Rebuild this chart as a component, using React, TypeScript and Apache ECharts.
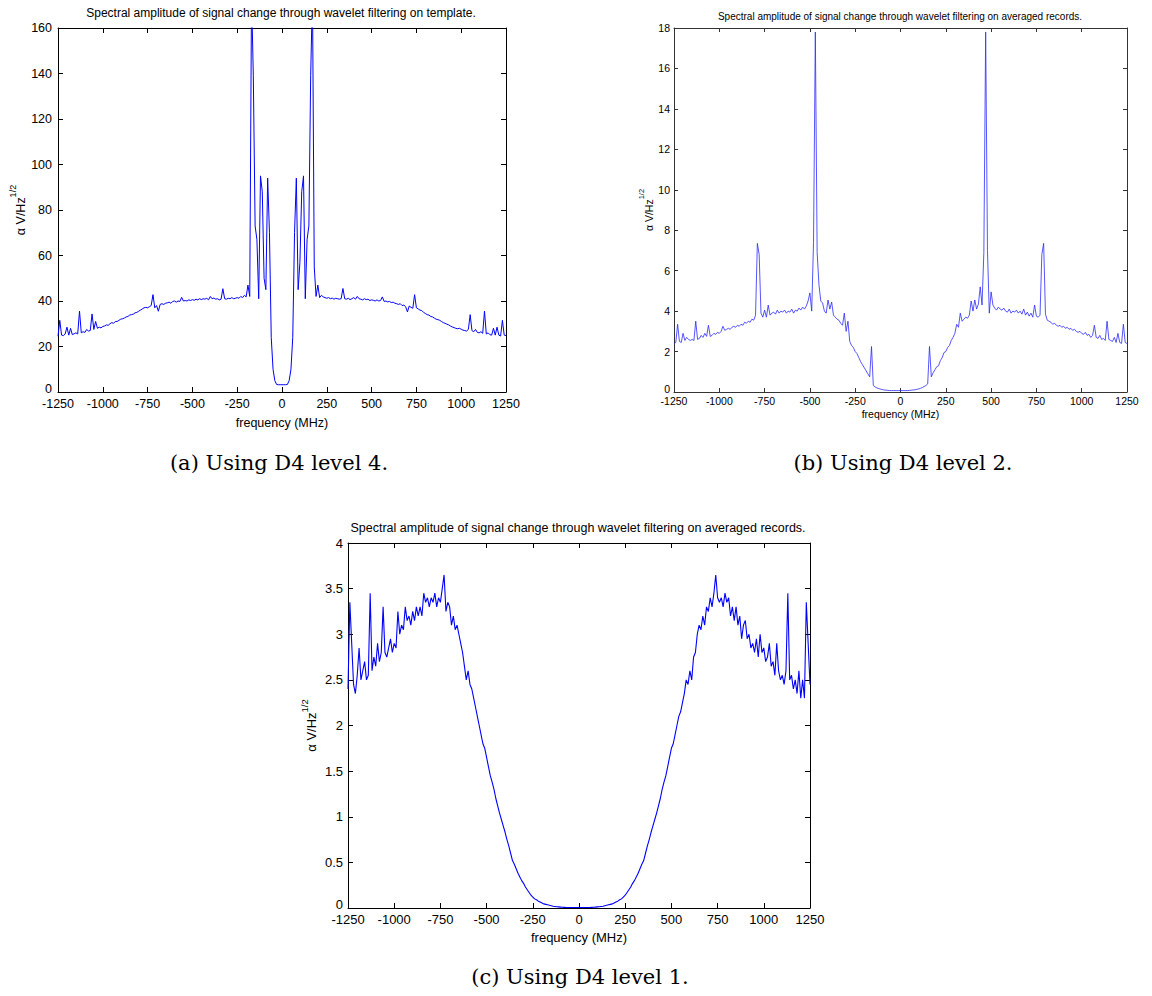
import React, { useEffect, useRef } from "react";
import * as echarts from "echarts";

// Frequency grid (MHz) shared by all three spectra
const FREQ_MIN = -1250;
const FREQ_STEP = 10;

// (a) D4 level 4, template
const ampTemplateL4: number[] = [
  24.5, 31.5, 25, 24.8, 25.5, 28.5, 25, 28, 25.2, 25.6,
  26, 25.5, 35.6, 26, 26.5, 26.2, 27.5, 26.8, 27, 34.3,
  27.5, 31, 28, 28.5, 28.2, 28.8, 29, 29.5, 29.3, 30,
  30.5, 30.2, 31, 31, 31.5, 32, 32.2, 32.5, 33, 33.2,
  33.8, 34, 34.2, 34.8, 35, 35.5, 36, 36.5, 37, 37.2,
  37, 37.5, 38, 42.8, 37, 38, 35.5, 38.5, 38.8, 38.5,
  39, 39.2, 39.5, 39, 39.8, 40, 39.5, 40, 39.8, 41.6,
  40, 40.2, 40, 40.5, 40.2, 40.6, 40.3, 40.8, 40.5, 41,
  40.6, 41, 40.8, 41.2, 40.5, 42, 41, 41.3, 40.8, 41,
  40.5, 40.8, 45.4, 41, 40.8, 41.2, 41, 41.5, 41, 41.2,
  41.5, 41.2, 42, 41.5, 42.5, 41.8, 47, 42, 175, 139,
  73, 67, 41, 95, 88, 50, 45, 94, 70, 24,
  10, 5, 3.3, 3.2, 3.2, 3.2, 3.2, 3.2, 3.3, 5,
  10, 24, 70, 94, 45, 57, 88, 95, 41, 67,
  73, 139, 175, 55, 42, 47, 41.5, 42.5, 41.8, 41.5,
  41.2, 41.5, 41, 41.3, 40.8, 41.2, 41, 40.8, 41, 45.5,
  41, 40.8, 41.2, 40.6, 41, 41.5, 40.8, 42, 41, 40.8,
  40.5, 41, 40.6, 40.8, 40.2, 40.5, 40.3, 40, 40.5, 40,
  40.2, 41.8, 39.8, 40, 39.6, 39.8, 39.3, 39.5, 39, 38.8,
  38.5, 38.8, 38, 38.2, 37.5, 35.2, 37.8, 37.2, 36.8, 42.8,
  37, 36.5, 36, 35.8, 35, 34.5, 34, 33.8, 33.2, 33,
  32.5, 32, 31.8, 31.5, 31, 30.5, 30.2, 29.8, 29.5, 29,
  28.6, 28.3, 28, 27.8, 28, 27.6, 27.2, 27, 26.8, 27.5,
  34, 27, 26.5, 27.5, 26.2, 26, 26.5, 25.8, 35.6, 25.5,
  26, 25.2, 25, 28, 25, 28.5, 25, 24.6, 31.5, 25,
  24.8,
];

// (b) D4 level 2, averaged records
const ampAveragedL2: number[] = [
  2.4, 2.45, 3.35, 2.5, 2.45, 2.9, 2.55, 2.7, 2.6, 2.55,
  2.6, 2.55, 3.5, 2.6, 2.65, 2.8, 2.7, 2.9, 2.75, 3.3,
  2.75, 2.8, 2.9, 2.85, 2.95, 2.9, 3.0, 3.25, 3.05, 3.1,
  3.15, 3.1, 3.2, 3.25, 3.2, 3.3, 3.25, 3.35, 3.3, 3.45,
  3.4, 3.5, 3.45, 3.6, 3.55, 3.8, 7.35, 6.8, 3.9, 3.7,
  4.05, 3.7, 4.3, 3.8, 3.9, 3.95, 3.85, 4.05, 3.9, 4.0,
  3.95, 4.05, 3.9, 4.0, 3.95, 4.1, 3.9, 4.05, 4.0, 4.15,
  4.05, 4.2, 4.1, 4.25, 4.5, 4.9, 4.0, 7.4, 17.8, 6.9,
  5.3, 4.5, 4.4, 4.0, 3.9, 4.55, 4.1, 4.45, 3.8, 3.7,
  3.6, 3.55, 3.4, 3.3, 3.9, 3.0, 3.5, 2.5, 2.3, 2.2,
  2.0, 1.9, 1.7, 1.5, 1.35, 1.2, 1.05, 0.9, 0.75, 2.25,
  0.32, 0.25, 0.2, 0.17, 0.14, 0.12, 0.1, 0.09, 0.08, 0.07,
  0.07, 0.07, 0.07, 0.07, 0.07, 0.07, 0.07, 0.07, 0.07, 0.07,
  0.08, 0.09, 0.1, 0.11, 0.13, 0.15, 0.18, 0.22, 0.27, 0.32,
  0.4, 2.25, 0.75, 0.95, 1.1, 1.25, 1.3, 1.55, 1.7, 1.95,
  2.0, 2.2, 2.3, 2.55, 2.7, 2.9, 3.35, 3.2, 3.9, 3.5,
  3.6, 3.7, 3.65, 3.8, 4.5, 4.0, 4.55, 4.1, 4.35, 5.2,
  4.3, 6.9, 17.8, 7.0, 3.9, 4.95, 4.3, 4.15, 4.05, 4.2,
  4.1, 4.05, 4.15, 4.0, 3.95, 4.1, 3.9, 4.0, 3.95, 4.05,
  3.9, 4.0, 3.85, 4.1, 3.8, 3.95, 3.75, 3.9, 3.7, 4.3,
  3.75, 3.7, 3.8, 6.8, 7.35, 3.85, 3.55, 3.5, 3.45, 3.35,
  3.4, 3.3, 3.25, 3.3, 3.2, 3.25, 3.15, 3.2, 3.1, 3.15,
  3.05, 3.1, 3.0, 2.95, 3.0, 2.9, 2.85, 2.95, 2.8, 2.85,
  2.7, 2.8, 3.3, 2.7, 2.65, 2.8, 2.6, 2.65, 2.55, 3.5,
  2.6, 2.55, 2.5, 2.7, 2.45, 2.9, 2.45, 2.4, 3.35, 2.45,
  2.4,
];

// (c) D4 level 1, averaged records
const ampAveragedL1: number[] = [
  2.4, 3.35, 2.9, 2.45, 2.35, 2.55, 2.85, 2.5, 2.6, 2.7,
  2.5, 2.55, 3.45, 2.6, 2.75, 2.65, 2.9, 2.7, 2.8, 3.3,
  2.8, 2.75, 2.85, 2.95, 2.8, 2.9, 2.85, 3.25, 3.0, 3.1,
  3.05, 3.3, 3.15, 3.2, 3.1, 3.25, 3.15, 3.3, 3.2, 3.3,
  3.2, 3.45, 3.35, 3.4, 3.3, 3.4, 3.35, 3.45, 3.3, 3.4,
  3.35, 3.5, 3.65, 3.25, 3.35, 3.3, 3.1, 3.2, 3.05, 3.1,
  3.0, 2.9, 2.8, 2.65, 2.5, 2.6, 2.45, 2.4, 2.3, 2.2,
  2.1, 2.0, 1.9, 1.8, 1.75, 1.65, 1.55, 1.45, 1.38, 1.3,
  1.2, 1.12, 1.04, 0.97, 0.9, 0.83, 0.75, 0.68, 0.6, 0.52,
  0.48, 0.43, 0.38, 0.34, 0.3, 0.27, 0.23, 0.2, 0.17, 0.14,
  0.12, 0.1, 0.09, 0.075, 0.065, 0.055, 0.045, 0.04, 0.035, 0.03,
  0.025, 0.02, 0.017, 0.014, 0.012, 0.01, 0.008, 0.007, 0.006, 0.005,
  0.005, 0.005, 0.005, 0.005, 0.005, 0.005, 0.005, 0.005, 0.005, 0.005,
  0.005, 0.006, 0.007, 0.008, 0.01, 0.012, 0.014, 0.017, 0.02, 0.025,
  0.03, 0.035, 0.04, 0.045, 0.055, 0.065, 0.075, 0.09, 0.1, 0.12,
  0.14, 0.17, 0.2, 0.23, 0.27, 0.3, 0.34, 0.38, 0.43, 0.48,
  0.52, 0.6, 0.68, 0.75, 0.83, 0.9, 0.97, 1.04, 1.12, 1.2,
  1.3, 1.38, 1.45, 1.55, 1.65, 1.75, 1.8, 1.9, 2.0, 2.1,
  2.15, 2.25, 2.35, 2.5, 2.45, 2.6, 2.5, 2.75, 2.8, 3.0,
  3.1, 3.05, 3.2, 3.1, 3.3, 3.25, 3.4, 3.3, 3.45, 3.65,
  3.4, 3.35, 3.4, 3.3, 3.45, 3.35, 3.4, 3.2, 3.3, 3.15,
  3.3, 3.1, 3.2, 2.95, 3.1, 3.15, 2.95, 3.0, 2.85, 2.9,
  2.8, 2.95, 2.75, 3.0, 2.8, 2.85, 2.7, 2.75, 2.9, 2.65,
  2.7, 2.55, 2.9, 2.6, 2.5, 2.55, 2.45, 2.6, 3.45, 2.5,
  2.55, 2.4, 2.5, 2.35, 2.6, 2.3, 2.5, 2.3, 3.35, 2.9,
  2.45,
];

const X_MIN = -1250;
const X_MAX = 1250;
const X_TICK = 250;
const yMaxes = [160, 18, 4];
const yTicks = [20, 2, 0.5];

const panelTitles = [
  "Spectral amplitude of signal change through wavelet filtering on template.",
  "Spectral amplitude of signal change through wavelet filtering on averaged records.",
  "Spectral amplitude of signal change through wavelet filtering on averaged records.",
];
const captions = ["(a) Using D4 level 4.", "(b) Using D4 level 2.", "(c) Using D4 level 1."];
const xAxisName = "frequency (MHz)";
const yAxisName = "{a|α V/Hz}{s|1/2}";

const SANS = "'Liberation Sans', Arial, Helvetica, sans-serif";
const SERIF = "'DejaVu Serif', serif";

const layout = [
  { left: 58, top: 28, width: 448, height: 364, tickFs: 12.5, titleFs: 12, titleX: 281, titleY: 13, yGap: 31, xGap: 24, labelMargin: 5, axisColor: "#000", lineWidth: 1, lineColor: "#0000ff", tickLen: 5, capX: 279, capY: 463, supFs: 9 },
  { left: 674, top: 28, width: 453, height: 364, tickFs: 10.5, titleFs: 10, titleX: 900, titleY: 16, yGap: 20, xGap: 16, labelMargin: 3, axisColor: "#333", lineWidth: 0.8, lineColor: "#2b2bff", tickLen: 4, capX: 903, capY: 463, supFs: 7.5 },
  { left: 348, top: 543, width: 462, height: 365, tickFs: 13, titleFs: 12.5, titleX: 578, titleY: 528, yGap: 30, xGap: 23, labelMargin: 4, axisColor: "#000", lineWidth: 1.1, lineColor: "#0000ff", tickLen: 5, capX: 580, capY: 977, supFs: 9.5 },
];

const toPairs = (vals: number[]) => vals.map((v, i) => [FREQ_MIN + i * FREQ_STEP, v]);
const seriesData = [ampTemplateL4, ampAveragedL2, ampAveragedL1];
const plainNumber = (v: number) => String(v);
const yLabel = (v: number) => (v === 0 ? "{z|0}" : String(v));

export default function App() {
  const ref = useRef<HTMLDivElement>(null);

  useEffect(() => {
    if (!ref.current) return;
    const chart = echarts.init(ref.current, undefined, { renderer: "svg" });

    const grid: any[] = [];
    const xAxis: any[] = [];
    const yAxis: any[] = [];
    const series: any[] = [];
    const graphic: any[] = [];

    layout.forEach((l, i) => {
      grid.push({ left: l.left, top: l.top, width: l.width, height: l.height });
      const line = { show: true, onZero: false, lineStyle: { color: l.axisColor, width: 1 } };
      const tick = { show: true, inside: true, length: l.tickLen, lineStyle: { color: l.axisColor, width: 1 } };
      const xCommon = { gridIndex: i, type: "value", min: X_MIN, max: X_MAX, interval: X_TICK, splitLine: { show: false }, axisLine: line, axisTick: tick };
      const yCommon = { gridIndex: i, type: "value", min: 0, max: yMaxes[i], interval: yTicks[i], splitLine: { show: false }, axisLine: line, axisTick: tick };
      const lh = Math.round(l.tickFs * 0.8);
      xAxis.push({
        ...xCommon,
        position: "bottom",
        axisLabel: { margin: l.labelMargin + 2, fontSize: l.tickFs, lineHeight: lh, fontFamily: SANS, color: "#000", showMinLabel: true, showMaxLabel: true, formatter: plainNumber },
        name: xAxisName,
        nameLocation: "middle",
        nameGap: l.xGap,
        nameTextStyle: { fontSize: l.tickFs, fontFamily: SANS, color: "#000" },
      });
      xAxis.push({ ...xCommon, position: "top", axisLabel: { show: false } });
      yAxis.push({
        ...yCommon,
        position: "left",
        axisLabel: {
          margin: l.labelMargin + 1,
          fontSize: l.tickFs,
          lineHeight: lh,
          fontFamily: SANS,
          color: "#000",
          showMinLabel: true,
          showMaxLabel: true,
          formatter: yLabel,
          rich: { z: { fontSize: l.tickFs, fontFamily: SANS, color: "#000", lineHeight: lh, padding: [0, 0, 7, 0] } },
        },
        name: yAxisName,
        nameLocation: "middle",
        nameGap: l.yGap,
        nameTextStyle: {
          fontSize: l.tickFs,
          fontFamily: SANS,
          color: "#000",
          rich: {
            a: { fontSize: l.tickFs, fontFamily: SANS, color: "#000", verticalAlign: "bottom", lineHeight: l.tickFs + 6 },
            s: { fontSize: l.supFs, fontFamily: SANS, color: "#000", verticalAlign: "top", lineHeight: l.tickFs + 6 },
          },
        },
      });
      yAxis.push({ ...yCommon, position: "right", axisLabel: { show: false } });
      series.push({
        type: "line",
        xAxisIndex: i * 2,
        yAxisIndex: i * 2,
        data: toPairs(seriesData[i]),
        showSymbol: false,
        symbol: "none",
        clip: true,
        lineStyle: { color: l.lineColor, width: l.lineWidth },
        itemStyle: { color: l.lineColor },
      });
      graphic.push({
        type: "text",
        x: l.titleX,
        y: l.titleY,
        style: { text: panelTitles[i], font: `${l.titleFs}px ${SANS}`, fill: "#000", textAlign: "center", textVerticalAlign: "middle", align: "center", verticalAlign: "middle" },
      });
      graphic.push({
        type: "text",
        x: l.capX,
        y: l.capY,
        style: { text: captions[i], font: `21px ${SERIF}`, fill: "#000", textAlign: "center", textVerticalAlign: "middle", align: "center", verticalAlign: "middle" },
      });
    });

    chart.setOption({
      animation: false,
      backgroundColor: "#fff",
      grid,
      xAxis,
      yAxis,
      series,
      graphic,
    });

    return () => chart.dispose();
  }, []);

  return <div ref={ref} style={{ position: "absolute", left: 0, top: 0, width: 1152, height: 996 }} />;
}
